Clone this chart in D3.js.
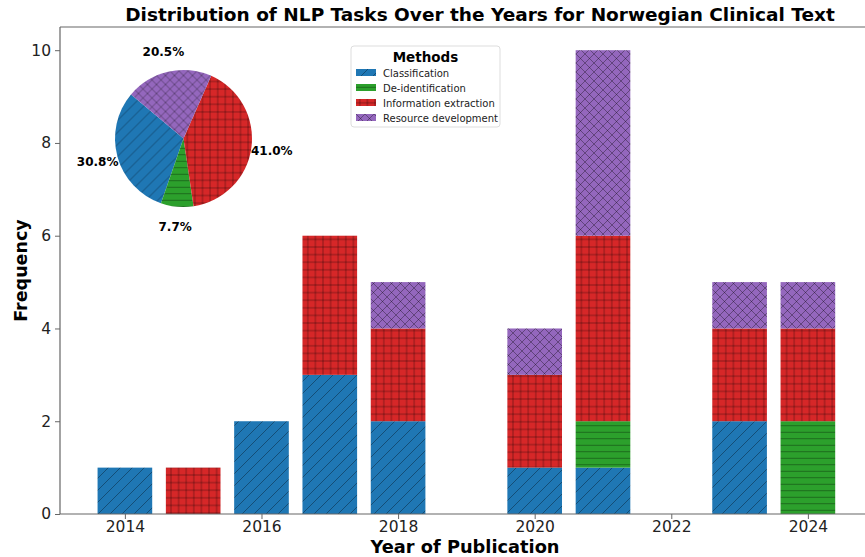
<!DOCTYPE html>
<html>
<head>
<meta charset="utf-8">
<script src="https://cdn.jsdelivr.net/npm/d3@7"></script>
<style>
  body { margin: 0; background: #fff; }
  text { font-family: "DejaVu Sans", sans-serif; }
</style>
</head>
<body>
<div id="chart"></div>
<script>
// data
var years = [2014, 2015, 2016, 2017, 2018, 2020, 2021, 2023, 2024];
var methods = ["Classification", "De-identification", "Information extraction", "Resource development"];
var classification = [1, 0, 2, 3, 2, 1, 1, 2, 0];
var deidentification = [0, 0, 0, 0, 0, 0, 1, 0, 2];
var infoExtraction = [0, 1, 0, 3, 2, 2, 4, 2, 2];
var resourceDev = [0, 0, 0, 0, 1, 1, 4, 1, 1];
var xTicks = [2014, 2016, 2018, 2020, 2022, 2024];
var yTicks = [0, 2, 4, 6, 8, 10];

var colors = ["#1f77b4", "#2ca02c", "#d62728", "#9467bd"];
var hatchIds = ["hatch-diag", "hatch-horiz", "hatch-grid", "hatch-cross"];

var svgWidth = 865;
var svgHeight = 557;
var margin = {top: 27, left: 60, bottom: 43};
var plotHeight = svgHeight - margin.top - margin.bottom;

var svg = d3.select("#chart")
  .append("svg")
  .attr("width", svgWidth)
  .attr("height", svgHeight);

// hatch patterns (matplotlib style: /, -, +, x)
var defs = svg.append("defs");
function makePattern(id, color, w, h, paths) {
  var p = defs.append("pattern")
    .attr("id", id)
    .attr("patternUnits", "userSpaceOnUse")
    .attr("width", w)
    .attr("height", h);
  p.append("rect").attr("width", w).attr("height", h).attr("fill", color);
  paths.forEach(function(d) {
    p.append("path").attr("d", d)
      .attr("stroke", "rgba(0,0,0,0.38)")
      .attr("stroke-width", 0.9)
      .attr("fill", "none");
  });
}
makePattern(hatchIds[0], colors[0], 12, 12, ["M0,12L12,0", "M-3,3L3,-3", "M9,15L15,9"]);
makePattern(hatchIds[1], colors[1], 10, 6.5, ["M0,3.25H10"]);
makePattern(hatchIds[2], colors[2], 7.6, 7.6, ["M0,3.8H7.6", "M3.8,0V7.6"]);
makePattern(hatchIds[3], colors[3], 9, 9, ["M0,9L9,0", "M0,0L9,9", "M-1,1L1,-1", "M8,10L10,8", "M-1,8L1,10", "M8,-1L10,1"]);

var table = years.map(function(y, i) {
  return {
    year: y,
    "Classification": classification[i],
    "De-identification": deidentification[i],
    "Information extraction": infoExtraction[i],
    "Resource development": resourceDev[i]
  };
});

var xScale = d3.scaleLinear()
  .domain([2013.05, 2024.95])
  .range([margin.left, margin.left + 11.9 * 68.3]);

var yScale = d3.scaleLinear()
  .domain([0, 10.5])
  .range([margin.top + plotHeight, margin.top]);

var barWidth = xScale(2014.8) - xScale(2014);

var stacked = d3.stack().keys(methods)(table);

var chartGroup = svg.append("g");

chartGroup.selectAll("g.layer")
  .data(stacked)
  .enter()
  .append("g")
  .attr("class", "layer")
  .attr("fill", (d, i) => "url(#" + hatchIds[i] + ")")
  .selectAll("rect")
  .data(d => d.filter(s => s[1] - s[0] > 0))
  .enter()
  .append("rect")
  .attr("x", d => xScale(d.data.year) - barWidth / 2)
  .attr("y", d => yScale(d[1]))
  .attr("width", barWidth)
  .attr("height", d => yScale(d[0]) - yScale(d[1]));

// axes
var axisColor = "#666";
var bottomAxis = d3.axisBottom(xScale).tickValues(xTicks).tickFormat(d3.format("d")).tickSize(5).tickPadding(2);
var leftAxis = d3.axisLeft(yScale).tickValues(yTicks).tickSize(5).tickPadding(4);

var xAxisG = chartGroup.append("g")
  .attr("transform", `translate(0, ${yScale(0)})`)
  .call(bottomAxis);
var yAxisG = chartGroup.append("g")
  .attr("transform", `translate(${margin.left}, 0)`)
  .call(leftAxis);

[xAxisG, yAxisG].forEach(function(g) {
  g.select(".domain").remove();
  g.selectAll(".tick line").attr("stroke", axisColor);
  g.selectAll(".tick text").attr("fill", "#222").style("font-size", "15.5px").style("font-family", "DejaVu Sans");
});

// spines
chartGroup.append("path")
  .attr("d", `M${margin.left},${margin.top}V${yScale(0)}H${xScale.range()[1]}M${margin.left},${margin.top}H${xScale.range()[1]}`)
  .attr("fill", "none")
  .attr("stroke", axisColor)
  .attr("stroke-width", 1.2);

// title + axis labels
svg.append("text")
  .attr("x", 480)
  .attr("y", 21)
  .attr("text-anchor", "middle")
  .style("font-size", "18.5px")
  .style("font-weight", "bold")
  .text("Distribution of NLP Tasks Over the Years for Norwegian Clinical Text");

svg.append("text")
  .attr("x", 465)
  .attr("y", 553)
  .attr("text-anchor", "middle")
  .style("font-size", "17.8px")
  .style("font-weight", "bold")
  .text("Year of Publication");

svg.append("text")
  .attr("transform", "rotate(-90)")
  .attr("x", -(margin.top + plotHeight / 2))
  .attr("y", 27)
  .attr("text-anchor", "middle")
  .style("font-size", "17.5px")
  .style("font-weight", "bold")
  .text("Frequency");

// legend
var legend = svg.append("g").attr("transform", "translate(351, 46)");
legend.append("rect")
  .attr("width", 149)
  .attr("height", 81)
  .attr("rx", 3)
  .attr("fill", "#fff")
  .attr("fill-opacity", 0.85)
  .attr("stroke", "#ddd");
legend.append("text")
  .attr("x", 74.5)
  .attr("y", 16)
  .attr("text-anchor", "middle")
  .style("font-size", "13.5px")
  .style("font-weight", "bold")
  .text("Methods");
methods.forEach(function(m, i) {
  var row = legend.append("g").attr("transform", `translate(5, ${23 + i * 15})`);
  row.append("rect").attr("width", 20).attr("height", 7).attr("fill", "url(#" + hatchIds[i] + ")");
  row.append("text").attr("x", 27).attr("y", 7.5).style("font-size", "10px").attr("fill", "#222").text(m);
});

// inset pie
var totals = [d3.sum(classification), d3.sum(deidentification), d3.sum(infoExtraction), d3.sum(resourceDev)];
var grand = d3.sum(totals);
var pieR = 68.5;
var pieStart = (90 - 140) * Math.PI / 180;
var pie = d3.pie().sort(null).startAngle(pieStart).endAngle(pieStart - 2 * Math.PI);
var arc = d3.arc().innerRadius(0).outerRadius(pieR);
var labelArc = d3.arc().innerRadius(pieR * 1.3).outerRadius(pieR * 1.3);

var pieG = svg.append("g").attr("transform", "translate(183.5, 138.5)");
var slices = pie(totals);
pieG.selectAll("path")
  .data(slices)
  .enter()
  .append("path")
  .attr("d", arc)
  .attr("fill", (d, i) => "url(#" + hatchIds[i] + ")");

pieG.selectAll("text")
  .data(slices)
  .enter()
  .append("text")
  .attr("transform", d => `translate(${labelArc.centroid(d)})`)
  .attr("text-anchor", "middle")
  .attr("dy", "0.35em")
  .style("font-size", "12px")
  .style("font-weight", "bold")
  .text(d => (d.value / grand * 100).toFixed(1) + "%");
</script>
</body>
</html>
